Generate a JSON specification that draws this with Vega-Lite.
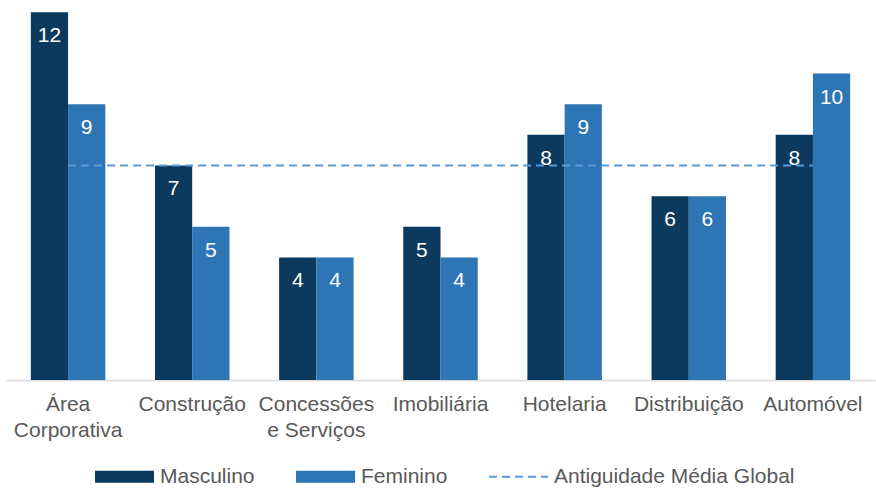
{
  "$schema": "https://vega.github.io/schema/vega-lite/v6.json",
  "width": 869,
  "height": 380,
  "autosize": {"type": "none"},
  "padding": {"left": 6, "top": 0, "right": 1, "bottom": 108},
  "background": "white",
  "config": {
    "view": {"stroke": null},
    "font": "Liberation Sans"
  },
  "datasets": {
    "bars": [
      {"categoria": "Área Corporativa", "serie": "Masculino", "valor": 12},
      {"categoria": "Área Corporativa", "serie": "Feminino", "valor": 9},
      {"categoria": "Construção", "serie": "Masculino", "valor": 7},
      {"categoria": "Construção", "serie": "Feminino", "valor": 5},
      {"categoria": "Concessões e Serviços", "serie": "Masculino", "valor": 4},
      {"categoria": "Concessões e Serviços", "serie": "Feminino", "valor": 4},
      {"categoria": "Imobiliária", "serie": "Masculino", "valor": 5},
      {"categoria": "Imobiliária", "serie": "Feminino", "valor": 4},
      {"categoria": "Hotelaria", "serie": "Masculino", "valor": 8},
      {"categoria": "Hotelaria", "serie": "Feminino", "valor": 9},
      {"categoria": "Distribuição", "serie": "Masculino", "valor": 6},
      {"categoria": "Distribuição", "serie": "Feminino", "valor": 6},
      {"categoria": "Automóvel", "serie": "Masculino", "valor": 8},
      {"categoria": "Automóvel", "serie": "Feminino", "valor": 10}
    ],
    "global": [
      {"categoria": "Área Corporativa", "media": 7},
      {"categoria": "Construção", "media": 7},
      {"categoria": "Concessões e Serviços", "media": 7},
      {"categoria": "Imobiliária", "media": 7},
      {"categoria": "Hotelaria", "media": 7},
      {"categoria": "Distribuição", "media": 7},
      {"categoria": "Automóvel", "media": 7}
    ]
  },
  "encoding": {
    "x": {
      "field": "categoria",
      "type": "nominal",
      "sort": null,
      "scale": {"paddingInner": 0.4, "paddingOuter": 0.2},
      "axis": {
        "title": null,
        "labelAngle": 0,
        "ticks": false,
        "domainColor": "#d9d9d9",
        "domainWidth": 1.5,
        "labelColor": "#595959",
        "labelFontSize": 21,
        "labelFont": "Liberation Sans",
        "labelPadding": 13,
        "labelLineHeight": 26,
        "labelBaseline": "top",
        "labelLimit": 200,
        "labelExpr": "datum.label == 'Área Corporativa' ? ['Área', 'Corporativa'] : datum.label == 'Concessões e Serviços' ? ['Concessões', 'e Serviços'] : datum.label"
      }
    }
  },
  "layer": [
    {
      "data": {"name": "bars"},
      "mark": {"type": "bar"},
      "encoding": {
        "xOffset": {"field": "serie", "type": "nominal", "sort": ["Masculino", "Feminino"], "scale": {"paddingInner": 0, "paddingOuter": 0}},
        "y": {"field": "valor", "type": "quantitative", "scale": {"domain": [0, 12.4], "nice": false}, "axis": null},
        "color": {
          "field": "serie",
          "type": "nominal",
          "scale": {
            "domain": ["Masculino", "Feminino", "Antiguidade Média Global"],
            "range": ["#0b3a5e", "#2e75b6", "#5b9bd5"]
          },
          "legend": {
            "title": null,
            "orient": "none",
            "direction": "horizontal",
            "legendX": 88,
            "legendY": 446,
            "padding": 0,
            "columnPadding": 37,
            "labelFontSize": 21,
            "labelColor": "#595959",
            "labelFont": "Liberation Sans",
            "labelOffset": 5,
            "labelLimit": 300,
            "symbolSize": 3481,
            "encode": {
              "symbols": {
                "update": {
                  "shape": [
                    {"test": "datum.value === 'Antiguidade Média Global'", "value": "stroke"},
                    {"value": "M-1,-0.2H1V0.2H-1Z"}
                  ],
                  "fillOpacity": [
                    {"test": "datum.value === 'Antiguidade Média Global'", "value": 0},
                    {"value": 1}
                  ],
                  "stroke": [
                    {"test": "datum.value === 'Antiguidade Média Global'", "value": "#5b9bd5"},
                    {"value": "transparent"}
                  ],
                  "strokeDash": [
                    {"test": "datum.value === 'Antiguidade Média Global'", "value": [8, 5]},
                    {"value": [1, 0]}
                  ],
                  "strokeWidth": {"value": 2}
                }
              }
            }
          }
        }
      }
    },
    {
      "data": {"name": "bars"},
      "mark": {"type": "text", "color": "white", "fontSize": 21, "baseline": "middle", "dy": 24, "font": "Liberation Sans"},
      "encoding": {
        "xOffset": {"field": "serie", "type": "nominal", "sort": ["Masculino", "Feminino"]},
        "y": {"field": "valor", "type": "quantitative"},
        "text": {"field": "valor", "type": "quantitative"}
      }
    },
    {
      "data": {"name": "global"},
      "mark": {"type": "line", "color": "#5b9bd5", "strokeWidth": 2, "strokeDash": [8, 5]},
      "encoding": {
        "y": {"field": "media", "type": "quantitative"}
      }
    }
  ]
}
